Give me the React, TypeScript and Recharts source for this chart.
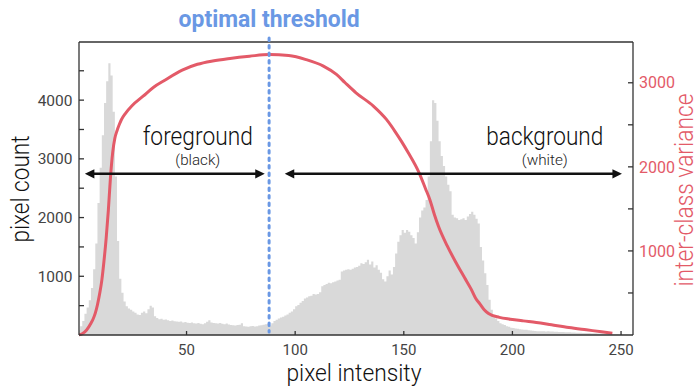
import React from "react";
import { ComposedChart, Area, Line, XAxis, YAxis, ReferenceLine, ReferenceDot } from "recharts";

// histogram counts, one per grey level
const counts0to63 = [
  80, 150, 240, 360, 470, 590, 800, 1120, 1560, 2250, 2850, 3400, 3950, 4320, 4630, 4420,
  3800, 2700, 1600, 960, 720, 570, 490, 450, 430, 400, 380, 350, 340, 380, 400, 370,
  440, 500, 470, 320, 290, 270, 275, 260, 265, 250, 240, 245, 235, 230, 225, 232,
  215, 220, 210, 205, 215, 200, 195, 205, 190, 185, 200, 225, 250, 215, 205, 200,
];
const counts64to127 = [
  195, 205, 190, 185, 195, 180, 170, 165, 160, 170, 175, 200, 150, 145, 140, 150,
  155, 145, 150, 160, 165, 175, 185, 190, 160, 200, 240, 260, 280, 300, 310, 330,
  350, 380, 400, 440, 490, 510, 550, 580, 620, 640, 660, 670, 700, 690, 700, 730,
  830, 850, 870, 890, 880, 900, 910, 930, 940, 1080, 1100, 1110, 1120, 1110, 1130, 1150,
];
const counts128to191 = [
  1160, 1180, 1220, 1210, 1240, 1280, 1200, 1250, 1150, 1190, 1110, 1060, 950, 910, 1000, 1100,
  1030, 1160, 1390, 1590, 1700, 1790, 1740, 1790, 1760, 1700, 1650, 1560, 1750, 2000, 2120, 2170,
  2300, 2700, 3300, 4000, 3950, 3650, 3300, 3050, 2880, 2700, 2560, 2450, 2050, 2000, 1990, 1960,
  1970, 1990, 1960, 2020, 2060, 2100, 2050, 1980, 1900, 1500, 1270, 1050, 850, 600, 430, 330,
];
const counts192to255 = [
  280, 240, 200, 185, 170, 150, 140, 125, 120, 110, 105, 100, 95, 90, 88, 80,
  78, 72, 68, 65, 66, 62, 64, 60, 62, 58, 60, 56, 55, 52, 50, 50,
  48, 46, 46, 44, 42, 40, 40, 38, 36, 35, 34, 32, 30, 30, 28, 26,
  25, 24, 22, 20, 18, 15, 12, 10, 8, 6, 5, 4, 3, 2, 1, 0,
];

// inter-class variance curve
const varianceIntensity = [
  0, 2, 4, 6, 7, 8, 9, 10, 11, 12, 13, 14, 15, 16, 17, 18, 19, 20, 22, 25, 30, 35, 40, 48, 55, 62, 70,
  79, 88, 97, 105, 113, 119, 123, 128, 136, 142, 146, 149, 152, 157, 160, 162, 164, 166, 170, 174, 178,
  181, 183, 185, 187, 189, 194, 199, 205, 211, 218, 226, 234, 241, 246,
];
const varianceValues = [
  0, 15, 60, 140, 190, 260, 360, 490, 650, 880, 1150, 1480, 1880, 2170, 2340, 2430, 2500, 2560, 2640,
  2730, 2840, 2950, 3030, 3150, 3220, 3260, 3290, 3316, 3336, 3324, 3276, 3198, 3099, 3000, 2881, 2723,
  2564, 2420, 2300, 2170, 1931, 1740, 1610, 1440, 1290, 1060, 862, 680, 545, 440, 370, 300, 255, 210,
  188, 168, 150, 122, 90, 62, 38, 20,
];

const xTicks = [50, 100, 150, 200, 250];
const countTicks = [500, 1000, 1500, 2000, 2500, 3000, 3500, 4000, 4500];
const varianceTicks = [500, 1000, 1500, 2000, 2500, 3000];
const THRESHOLD = 88;

const histData = [...counts0to63, ...counts64to127, ...counts128to191, ...counts192to255].map((count, i) => ({
  intensity: i,
  count,
}));
const varData = varianceIntensity.map((intensity, k) => ({ intensity, variance: varianceValues[k] }));

const FONT = "Roboto, 'Noto Sans', sans-serif";
const RED = "#e35a68";
const BLUE = "#6a98e4";
const AXIS = "#333";

const Arrow = (props: any) => {
  const { x1, y1, x2, y2 } = props;
  const left = Math.min(x1, x2);
  const right = Math.max(x1, x2);
  const y = y1;
  const h = 9.5;
  const w = 4.6;
  return (
    <g>
      <line x1={left + h - 1} y1={y} x2={right - h + 1} y2={y2} stroke="#111" strokeWidth={2.6} />
      <polygon points={`${left},${y} ${left + h},${y - w} ${left + h},${y + w}`} fill="#111" />
      <polygon points={`${right},${y} ${right - h},${y - w} ${right - h},${y + w}`} fill="#111" />
    </g>
  );
};

const Threshold = (props: any) => {
  const { x1, y1, y2 } = props;
  const top = Math.min(y1, y2);
  const bottom = Math.max(y1, y2);
  return (
    <g>
      <line
        x1={x1}
        x2={x1}
        y1={top - 4}
        y2={bottom - 3}
        stroke={BLUE}
        strokeWidth={3}
        strokeDasharray="2.5 5"
        strokeLinecap="round"
      />
      <text
        x={x1}
        y={top - 15}
        textAnchor="middle"
        fill={BLUE}
        fontFamily={FONT}
        fontWeight={700}
        fontSize={24}
        textLength={181}
        lengthAdjust="spacingAndGlyphs"
      >
        optimal threshold
      </text>
    </g>
  );
};

const note = (title: string, sub: string, titleWidth: number, subWidth: number) => (props: any) => {
  const { cx, cy } = props;
  return (
    <g fontFamily={FONT} fontWeight={300} fill="#111">
      <text x={cx} y={cy} textAnchor="middle" fontSize={26} textLength={titleWidth} lengthAdjust="spacingAndGlyphs">
        {title}
      </text>
      <text x={cx} y={cy + 20.5} textAnchor="middle" fontSize={15.5} fill="#222" textLength={subWidth} lengthAdjust="spacingAndGlyphs">
        {sub}
      </text>
    </g>
  );
};

const minorLabel = (v: number) => (v % 1000 === 0 ? String(v) : "");

export default function App() {
  return (
    <div style={{ position: "absolute", left: 0, top: 0, width: 699, height: 387, background: "#fff" }}>
      <ComposedChart width={699} height={387} margin={{ top: 42, right: 0, bottom: 0, left: 0 }}>
        <XAxis
          dataKey="intensity"
          type="number"
          domain={[0.5, 255.5]}
          allowDataOverflow
          ticks={xTicks}
          height={52}
          tickSize={-4}
          tickMargin={13}
          stroke={AXIS}
          strokeWidth={1.3}
          tick={{ fill: "#444", fontSize: 15, fontFamily: FONT }}
          label={(p: any) => {
            const vb = p.viewBox || { x: 79, y: 335, width: 554 };
            return (
              <text
                x={vb.x + vb.width / 2 - 2}
                y={381}
                textAnchor="middle"
                fontFamily={FONT}
                fontWeight={300}
                fontSize={24.5}
                fill="#111"
                textLength={135}
                lengthAdjust="spacingAndGlyphs"
              >
                pixel intensity
              </text>
            );
          }}
        />
        <YAxis
          yAxisId="left"
          orientation="left"
          type="number"
          domain={[0, 4990]}
          ticks={countTicks}
          width={79}
          tickSize={-5}
          tickMargin={11.5}
          tickFormatter={minorLabel}
          stroke={AXIS}
          strokeWidth={1.3}
          tick={{ fill: "#444", fontSize: 15.5, fontFamily: FONT }}
          label={() => (
            <text
              x={29}
              y={189}
              transform="rotate(-90 29 189)"
              textAnchor="middle"
              fontFamily={FONT}
              fontWeight={300}
              fontSize={26}
              fill="#111"
              textLength={107}
              lengthAdjust="spacingAndGlyphs"
            >
              pixel count
            </text>
          )}
        />
        <YAxis
          yAxisId="right"
          orientation="right"
          type="number"
          domain={[0, 3485]}
          ticks={varianceTicks}
          width={66}
          tickSize={-5}
          tickMargin={11}
          tickFormatter={minorLabel}
          stroke={AXIS}
          strokeWidth={1.3}
          tick={{ fill: RED, fontSize: 16, fontFamily: FONT }}
          label={() => (
            <text
              x={693}
              y={190}
              transform="rotate(-90 693 190)"
              textAnchor="middle"
              fontFamily={FONT}
              fontWeight={300}
              fontSize={25}
              fill={RED}
              textLength={193}
              lengthAdjust="spacingAndGlyphs"
            >
              inter-class variance
            </text>
          )}
        />
        <Area
          yAxisId="left"
          data={histData}
          dataKey="count"
          type="stepAfter"
          fill="#d9d9d9"
          fillOpacity={1}
          stroke="none"
          isAnimationActive={false}
        />
        <Line
          yAxisId="right"
          data={varData}
          dataKey="variance"
          type="monotone"
          stroke={RED}
          strokeWidth={3}
          dot={false}
          isAnimationActive={false}
        />
        <ReferenceLine yAxisId="left" y={4990} stroke={AXIS} strokeWidth={1.3} />
        <ReferenceLine
          yAxisId="left"
          segment={[
            { x: 3.2, y: 2745 },
            { x: 86, y: 2745 },
          ]}
          shape={Arrow}
        />
        <ReferenceLine
          yAxisId="left"
          segment={[
            { x: 95.2, y: 2745 },
            { x: 250.4, y: 2745 },
          ]}
          shape={Arrow}
        />
        <ReferenceLine yAxisId="left" x={THRESHOLD} shape={Threshold} />
        <ReferenceDot yAxisId="left" x={55.2} y={3238} shape={note("foreground", "(black)", 110, 45)} />
        <ReferenceDot yAxisId="left" x={214.9} y={3238} shape={note("background", "(white)", 117, 46)} />
      </ComposedChart>
    </div>
  );
}
